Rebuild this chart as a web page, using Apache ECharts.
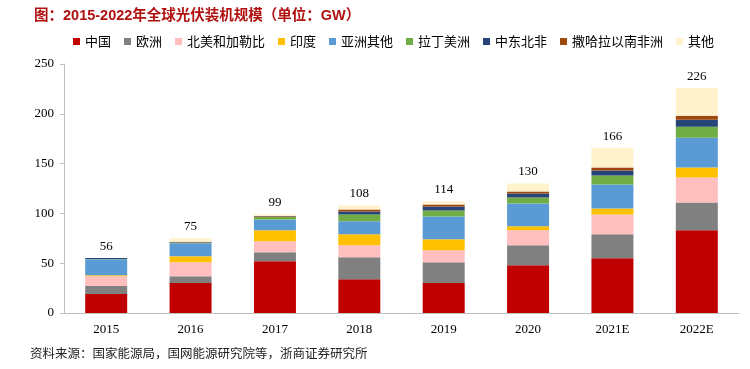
<!DOCTYPE html>
<html>
<head>
<meta charset="utf-8">
<script src="https://cdn.jsdelivr.net/npm/echarts@6/dist/echarts.min.js"></script>
<style>html,body{margin:0;padding:0;background:#fff;}#c{width:750px;height:369px;}</style>
</head>
<body>
<div id="c"></div>
<script>
const categories = ['2015','2016','2017','2018','2019','2020','2021E','2022E'];
const totals = [56, 75, 99, 108, 114, 130, 166, 226];
const china    = [19, 30, 52, 34, 30, 48, 55, 83];
const europe   = [8, 7, 9, 22, 21, 20, 24, 28];
const namerica = [10, 14, 11, 12, 12, 15, 20, 25];
const india    = [1, 6, 11, 11, 11, 4, 6, 10];
const asiaOther= [16, 13, 11, 13, 23, 23, 24, 30];
const latam    = [0.3, 0.5, 2.5, 7, 6, 6, 9, 11];
const mena     = [1, 0.5, 0.5, 3, 4, 4, 5, 7];
const ssa      = [0, 0.5, 0.3, 2, 2, 2, 3, 4];
const others   = [0, 3.5, 1.7, 4, 3, 8, 20, 28];
const seriesNames = ['中国','欧洲','北美和加勒比','印度','亚洲其他','拉丁美洲','中东北非','撒哈拉以南非洲','其他'];
const seriesData = [china, europe, namerica, india, asiaOther, latam, mena, ssa, others];
const colors = ['#C00000','#808080','#FFBFBF','#FFC000','#5B9BD5','#70AD47','#264478','#9E480E','#FFF2CC'];

const chart = echarts.init(document.getElementById('c'));
const series = seriesNames.map((n, i) => {
  const s = {
    name: n, type: 'bar', stack: 'total', barWidth: 42,
    itemStyle: { color: colors[i] },
    data: seriesData[i]
  };
  if (i === seriesNames.length - 1) {
    s.label = {
      show: true, position: 'top', distance: 5,
      fontFamily: 'Liberation Serif', fontSize: 13, color: '#000',
      formatter: p => totals[p.dataIndex]
    };
  }
  return s;
});
chart.setOption({
  animation: false,
  title: {
    text: '图：2015-2022年全球光伏装机规模（单位：GW）',
    left: 29, top: 4,
    textStyle: { color: '#B01010', fontSize: 14.5, fontWeight: 'bold', fontFamily: 'Liberation Sans, Noto Sans CJK SC' }
  },
  legend: {
    data: seriesNames, top: 30, left: 68,
    icon: 'rect', itemWidth: 7, itemHeight: 7, itemGap: 13,
    textStyle: { fontSize: 13, color: '#000', fontFamily: 'Noto Sans CJK SC' }
  },
  graphic: [{
    type: 'text', left: 30, top: 347,
    style: { text: '资料来源：国家能源局，国网能源研究院等，浙商证券研究所', fontSize: 12.5, fill: '#222', fontFamily: 'Noto Sans CJK SC' }
  }],
  grid: { left: 64, right: 11, top: 64, bottom: 56 },
  xAxis: {
    type: 'category', data: categories,
    axisLine: { lineStyle: { color: '#BFBFBF' } },
    axisTick: { show: false },
    axisLabel: { fontFamily: 'Liberation Serif', fontSize: 13, color: '#000', margin: 10 }
  },
  yAxis: {
    type: 'value', min: 0, max: 250, interval: 50,
    axisLine: { show: true, lineStyle: { color: '#BFBFBF' } },
    axisTick: { show: true, length: 4, lineStyle: { color: '#BFBFBF' } },
    splitLine: { show: false },
    axisLabel: { fontFamily: 'Liberation Serif', fontSize: 13, color: '#000', margin: 10 }
  },
  series: series
});
</script>
</body>
</html>
